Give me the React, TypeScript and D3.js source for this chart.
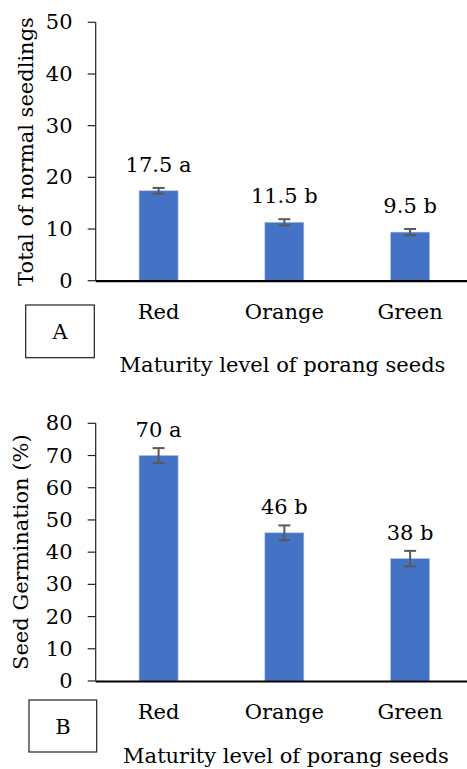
import React from "react";
import * as d3 from "d3";

const categories = ["Red", "Orange", "Green"];
const seedlingValues = [17.4, 11.3, 9.4];
const seedlingErrors = [0.55, 0.6, 0.6];
const seedlingLabels = ["17.5 a", "11.5 b", "9.5 b"];
const seedlingTicks = [0, 10, 20, 30, 40, 50];

const germValues = [70, 46, 38];
const germErrors = [2.3, 2.3, 2.4];
const germLabels = ["70 a", "46 b", "38 b"];
const germTicks = [0, 10, 20, 30, 40, 50, 60, 70, 80];

const FONT = "'DejaVu Serif', serif";
const FS = 21;
const BAR = "#4472C4";
const ERR = "#595959";
const INK = "#000";

type PanelProps = {
  values: number[];
  errors: number[];
  labels: string[];
  ticks: number[];
  yMax: number;
  yTop: number;
  yBottom: number;
  labelGap: number;
  yTitle: string;
  yTitleX: number;
  catY: number;
  titleY: number;
  titleX: number;
  box: { x: number; y: number; w: number; h: number; letter: string };
};

function Panel(p: PanelProps) {
  const axisX = 95.7;
  const x = d3.scaleBand<string>().domain(categories).range([axisX, 473]).paddingInner(0.69).paddingOuter(0.345);
  const y = d3.scaleLinear().domain([0, p.yMax]).range([p.yBottom, p.yTop]);
  const bw = x.bandwidth();
  return (
    <g>
      {categories.map((c, i) => {
        const cx = x(c)! + bw / 2;
        const v = p.values[i];
        const e = p.errors[i];
        return (
          <g key={c}>
            <rect x={x(c)} y={y(v)} width={bw} height={y(0) - y(v)} fill={BAR} stroke="#a9bfe6" strokeWidth={0.6} />
            <line x1={cx} x2={cx} y1={y(v + e)} y2={y(v - e)} stroke={ERR} strokeWidth={2} />
            <line x1={cx - 6} x2={cx + 6} y1={y(v + e)} y2={y(v + e)} stroke={ERR} strokeWidth={2} />
            <line x1={cx - 6} x2={cx + 6} y1={y(v - e)} y2={y(v - e)} stroke={ERR} strokeWidth={2} />
            <text x={cx} y={y(v + e) - p.labelGap} textAnchor="middle" fontFamily={FONT} fontSize={FS} fill={INK}>
              {p.labels[i]}
            </text>
            <text x={cx} y={p.catY} textAnchor="middle" fontFamily={FONT} fontSize={FS} fill={INK}>
              {c}
            </text>
          </g>
        );
      })}
      <line x1={axisX} x2={axisX} y1={y(p.yMax)} y2={y(0)} stroke="#222" strokeWidth={1.2} />
      {p.ticks.map((t) => (
        <g key={t}>
          <line x1={axisX - 8} x2={axisX} y1={y(t)} y2={y(t)} stroke="#222" strokeWidth={1.2} />
          <text x={72.5} y={y(t) + 7} textAnchor="end" fontFamily={FONT} fontSize={FS} fill={INK}>
            {t}
          </text>
        </g>
      ))}
      <line x1={axisX} x2={467} y1={y(0) + 0.5} y2={y(0) + 0.5} stroke="#000" strokeWidth={2.2} />
      <text
        transform={`translate(${p.yTitleX},${(p.yTop + p.yBottom) / 2}) rotate(-90)`}
        textAnchor="middle"
        fontFamily={FONT}
        fontSize={FS}
        fill={INK}
      >
        {p.yTitle}
      </text>
      <rect x={p.box.x} y={p.box.y} width={p.box.w} height={p.box.h} fill="none" stroke="#222" strokeWidth={1.2} />
      <text x={p.box.x + p.box.w / 2} y={p.box.y + p.box.h / 2 + 7.5} textAnchor="middle" fontFamily={FONT} fontSize={FS} fill={INK}>
        {p.box.letter}
      </text>
      <text x={p.titleX} y={p.titleY} textAnchor="middle" fontFamily={FONT} fontSize={FS} fill={INK}>
        Maturity level of porang seeds
      </text>
    </g>
  );
}

export default function App() {
  return (
    <svg width={467} height={769} style={{ position: "absolute", left: 0, top: 0, background: "#fff" }}>
      <rect width={467} height={769} fill="#fff" />
      <Panel
        values={seedlingValues}
        errors={seedlingErrors}
        labels={seedlingLabels}
        ticks={seedlingTicks}
        yMax={50}
        yTop={22.3}
        yBottom={280.7}
        labelGap={16}
        yTitle="Total of normal seedlings"
        yTitleX={33}
        catY={319}
        titleY={371.7}
        titleX={282.5}
        box={{ x: 25.7, y: 305, w: 68.6, h: 52.7, letter: "A" }}
      />
      <Panel
        values={germValues}
        errors={germErrors}
        labels={germLabels}
        ticks={germTicks}
        yMax={80}
        yTop={423.3}
        yBottom={681}
        labelGap={11}
        yTitle="Seed Germination (%)"
        yTitleX={28}
        catY={719.3}
        titleY={762.7}
        titleX={286}
        box={{ x: 29, y: 700, w: 67.7, h: 52, letter: "B" }}
      />
    </svg>
  );
}
